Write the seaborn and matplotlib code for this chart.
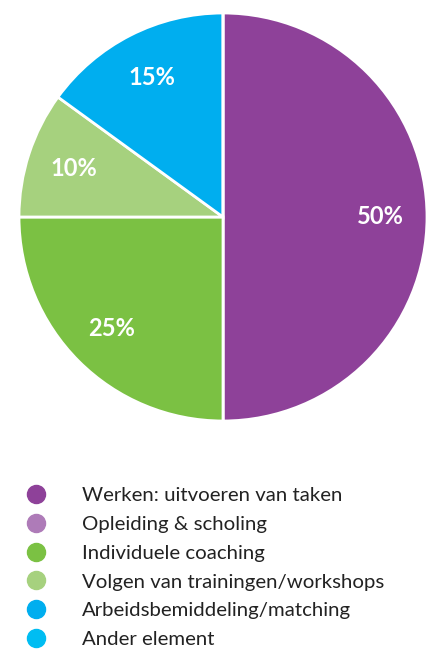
import matplotlib
matplotlib.use("Agg")
import matplotlib.pyplot as plt
from matplotlib.lines import Line2D
import seaborn as sns

sns.set_theme(style="white")
plt.rcParams["font.family"] = ["Lato", "DejaVu Sans"]

# Share of time spent per activity (%)
categories = [
    "Werken: uitvoeren van taken",
    "Opleiding & scholing",
    "Individuele coaching",
    "Volgen van trainingen/workshops",
    "Arbeidsbemiddeling/matching",
    "Ander element",
]
shares = [50, 0, 25, 10, 15, 0]
colors = ["#8E4199", "#AE7BB8", "#7BC143", "#A6D17E", "#00AEEF", "#00BDF2"]

W, H = 427, 657
fig = plt.figure(figsize=(W / 100, H / 100), dpi=100)
fig.patch.set_facecolor("white")

cx, cy, r = 223, 217, 204
ax = fig.add_axes([(cx - r) / W, (H - cy - r) / H, 2 * r / W, 2 * r / H])

wedges, texts, autotexts = ax.pie(
    shares,
    colors=colors,
    startangle=90,
    counterclock=False,
    radius=1,
    autopct=lambda p: f"{p:.0f}%" if p > 0.5 else "",
    pctdistance=0.77,
    wedgeprops=dict(edgecolor="white", linewidth=2),
    textprops=dict(color="white", fontsize=17, fontweight="bold"),
)
ax.set_xlim(-1, 1)
ax.set_ylim(-1, 1)
ax.set_aspect("equal")
ax.axis("off")

handles = [
    Line2D([0], [0], marker="o", linestyle="none", markersize=13,
           markerfacecolor=c, markeredgecolor=c)
    for c in colors
]
fig.legend(
    handles, categories,
    loc="upper left",
    bbox_to_anchor=(18 / W, 1 - 479 / H),
    frameon=False,
    fontsize=14.7,
    labelcolor="#222222",
    handletextpad=1.75,
    labelspacing=0.56,
    handlelength=1.0,
    borderaxespad=0,
)

fig.savefig("out.png", dpi=100, facecolor="white")
